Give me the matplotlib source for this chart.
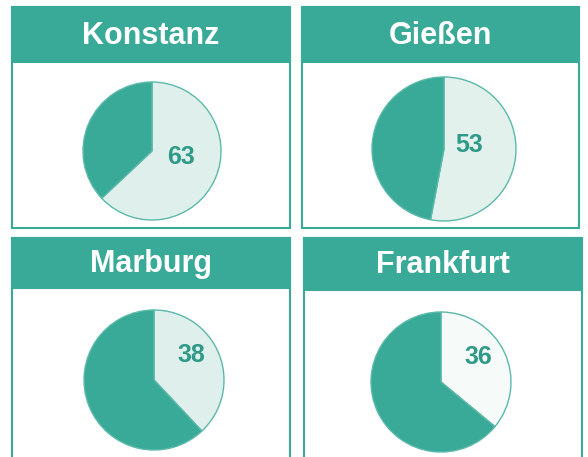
import matplotlib.pyplot as plt
from matplotlib.patches import Rectangle

cities = ['Konstanz', 'Gießen', 'Marburg', 'Frankfurt']
shares = [63, 53, 38, 36]

TEAL = '#3aaa98'
DARK = '#2f9a88'
light_fill = ['#dfefeb', '#e3f1ed', '#dfefeb', '#f6fbfa']

# panel boxes in pixels: (left, top, right, bottom, header bottom)
panels = [(12, 7, 290, 228, 62),
          (302, 7, 579, 228, 62),
          (12, 238, 290, 470, 288),
          (304, 238, 582, 470, 290)]
pie_centers = [(152, 151), (444, 149), (154, 380), (441, 382)]
pie_radius = [69, 72, 70, 70]
label_pos = [(181, 157), (469, 145), (191, 355), (478, 357)]

fig = plt.figure(figsize=(5.88, 4.57), dpi=100)
ax = fig.add_axes([0, 0, 1, 1])
ax.set_xlim(0, 588)
ax.set_ylim(457, 0)
ax.set_aspect('equal')
ax.axis('off')

for i, city in enumerate(cities):
    l, t, r, b, hb = panels[i]
    ax.add_patch(Rectangle((l, t), r - l, b - t, facecolor='white',
                           edgecolor=TEAL, lw=1.5, zorder=1))
    ax.add_patch(Rectangle((l, t), r - l, hb - t, facecolor=TEAL,
                           edgecolor=TEAL, lw=1.5, zorder=2))
    ax.text((l + r) / 2, (t + hb) / 2 + 1, city, color='white', fontsize=22,
            fontweight='bold', family='Liberation Sans',
            ha='center', va='center', zorder=3)

    cx, cy = pie_centers[i]
    # y axis is inverted, so counterclock=True draws clockwise on screen
    wedges, _ = ax.pie([shares[i], 100 - shares[i]], center=(cx, cy),
                       radius=pie_radius[i], startangle=-90, counterclock=True,
                       colors=[light_fill[i], TEAL],
                       wedgeprops=dict(edgecolor='#5bb9aa', linewidth=1.0))
    for w in wedges:
        w.set_zorder(4)
    lx, ly = label_pos[i]
    ax.text(lx, ly, str(shares[i]), color=DARK, fontsize=18, fontweight='bold',
            family='Liberation Sans', ha='center', va='center', zorder=5)

ax.set_xlim(0, 588)
ax.set_ylim(457, 0)
fig.savefig('out.png', dpi=100)
